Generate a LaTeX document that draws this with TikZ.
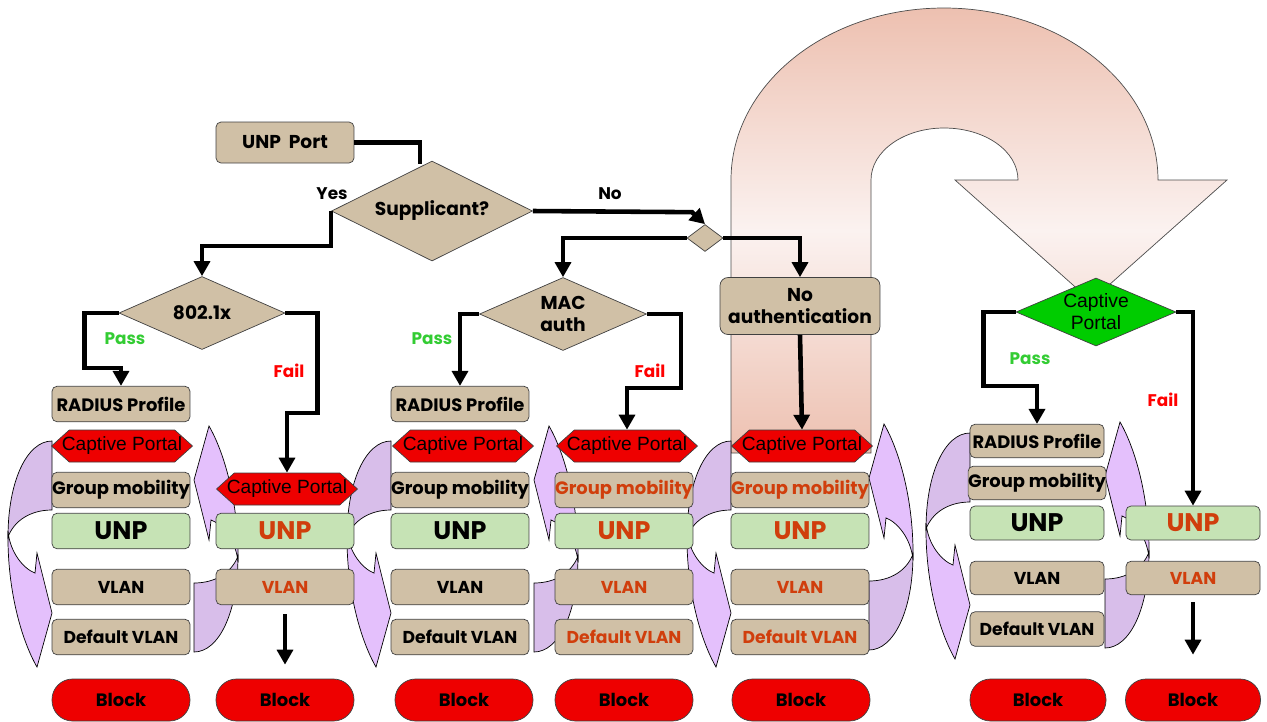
\documentclass[tikz,border=0pt]{standalone}
\usepackage{fontspec}
\setmainfont{Poppins}
\newfontfamily\arialfont{Liberation Sans}
\usetikzlibrary{shapes.geometric,shapes.symbols,arrows.meta}

\definecolor{boxtan}{RGB}{208,192,166}
\definecolor{unpgreen}{RGB}{198,227,181}
\definecolor{hexred}{RGB}{238,0,0}
\definecolor{cpgreen}{RGB}{0,204,0}
\definecolor{rusttext}{RGB}{208,62,12}
\definecolor{passgreen}{RGB}{51,204,51}
\definecolor{failred}{RGB}{255,0,0}
\definecolor{lilacback}{RGB}{216,190,234}
\definecolor{lilacfront}{RGB}{228,192,252}
\definecolor{salmon}{RGB}{237,192,176}
\definecolor{blush}{RGB}{251,242,240}

\newcommand{\fsbox}{\fontsize{10.2}{12.5}\selectfont\bfseries}
\newcommand{\fsvlan}{\fontsize{9.8}{12}\selectfont\bfseries}
\newcommand{\fsunp}{\fontsize{14.5}{16}\selectfont\bfseries}
\newcommand{\fslabel}{\fontsize{9.6}{12}\selectfont\bfseries}
\newcommand{\cptext}{\makebox[0pt]{Captive Portal}}

% curved loop arrow beside a stack, anchor = top end of the back part
\newcommand{\cyclearrow}[2]{%
  \begin{scope}[shift={#1}, rotate=#2]
    \draw[fill=lilacback, thin] (0,0) .. controls (-25,0) and (-44,40) .. (-44,96)
      .. controls (-38,80) and (-22,69) .. (0,69) -- cycle;
    \draw[fill=lilacfront, thin] (-44,90) .. controls (-45,150) and (-30,200) .. (-15,226)
      -- (0,172) -- (-15,112) -- (-17,132)
      .. controls (-28,128) and (-42,112) .. (-44,90) -- cycle;
  \end{scope}}

\begin{document}
\begin{tikzpicture}[x=0.02cm, y=-0.02cm]
    \tikzstyle{arrow} = [line width=2.6pt, ->, >= {Triangle[width=9pt, length=8.5pt]}]
    \tikzstyle{plainline} = [line width=2.6pt]
    \tikzstyle{tanbox} = [draw=black!75, fill=boxtan, rounded corners=0.1cm, minimum width=2.76cm, minimum height=0.71cm, inner sep=0pt, font=\fsbox]
    \tikzstyle{unpbox} = [tanbox, fill=unpgreen, font=\fsunp]
    \tikzstyle{vlanbox} = [tanbox, font=\fsvlan]
    \tikzstyle{hexbox} = [signal, signal to=west and east, signal pointer angle=84, draw=black!75, fill=hexred, minimum width=2.82cm, minimum height=0.64cm, inner sep=0pt, font=\arialfont\fontsize{10.9}{12}\selectfont]
    \tikzstyle{blockbox} = [draw=black!75, fill=hexred, rounded corners=0.41cm, minimum width=2.76cm, minimum height=0.84cm, inner sep=0pt, font=\fsbox]
    \tikzstyle{decision} = [diamond, draw=black!75, fill=boxtan, inner sep=0pt, align=center, font=\fsbox]
    \tikzstyle{rust} = [text=rusttext]
    \tikzstyle{pass} = [text=passgreen, font=\fslabel]
    \tikzstyle{fail} = [text=failred, font=\fslabel]

    \useasboundingbox (0,0) rectangle (1267,721);

    \draw[draw=black!70, thin, top color=salmon, bottom color=salmon, middle color=blush]
      (731,453) -- (731,180) .. controls (731,85) and (826,8) .. (944,8)
      .. controls (1062,8) and (1158,85) .. (1158,180) -- (1227,180) -- (1091,301)
      -- (955,180) -- (1018,180) .. controls (1018,151) and (985,128) .. (944,128)
      .. controls (904,128) and (871,151) .. (871,180) -- (871,453) -- cycle;

    \cyclearrow{(52,441)}{0}
    \cyclearrow{(194,652)}{180}
    \cyclearrow{(391,441)}{0}
    \cyclearrow{(534,652)}{180}
    \cyclearrow{(731,441)}{0}
    \cyclearrow{(869,650)}{180}
    \cyclearrow{(970,433)}{0}
    \cyclearrow{(1105,648)}{180}

    \node[tanbox, minimum height=0.82cm, font=\fontsize{10.6}{12.5}\selectfont\bfseries](port) at (285,142.5){UNP\ \ Port};
    \node[decision, aspect=2, minimum width=4.02cm, minimum height=2cm, font=\fontsize{10.6}{12.5}\selectfont\bfseries](supp) at (432,211){Supplicant?};
    \node[decision, aspect=2.27, minimum width=3.32cm, minimum height=1.46cm, font=\fontsize{10.6}{12.5}\selectfont\bfseries](dot1x) at (202,313){802.1x};
    \node[decision, aspect=2.29, minimum width=3.34cm, minimum height=1.46cm, font=\fontsize{10.6}{12.5}\selectfont\bfseries](mac) at (563,314){MAC\\auth};
    \node[decision, aspect=1.33, minimum width=0.72cm, minimum height=0.54cm](split) at (705,238){};
    \node[tanbox, minimum width=3.2cm, minimum height=1.14cm, rounded corners=0.16cm, align=center, font=\fontsize{10.6}{12.5}\selectfont\bfseries](noauth) at (800,306){No\\authentication};
    \node[decision, aspect=2.35, fill=cpgreen, minimum width=3.2cm, minimum height=1.36cm, font=\arialfont\fontsize{11}{12.5}\selectfont](cpdec) at (1096,312){Captive\\Portal};

    \node[font=\fslabel](yes) at (332,194){Yes};
    \node[font=\fslabel](no) at (610,194){No};
    \node[pass](pass1) at (125,339){Pass};
    \node[fail](fail1) at (289,371){Fail};
    \node[pass](pass3) at (432,339){Pass};
    \node[fail](fail3) at (650,371){Fail};
    \node[pass](pass6) at (1030,359){Pass};
    \node[fail](fail6) at (1163,400){Fail};

    \node[tanbox](rad1) at (121,404){RADIUS Profile};
    \node[hexbox](cp1) at (122,446){\cptext};
    \node[tanbox](gm1) at (121,490){Group mobility};
    \node[unpbox](unp1) at (121,531){UNP};
    \node[vlanbox](vlan1) at (121,587){VLAN};
    \node[vlanbox](dv1) at (121,637){Default VLAN};
    \node[blockbox](blk1) at (121,700){Block};

    \node[hexbox](cp2) at (287,489){\cptext};
    \node[unpbox, rust](unp2) at (285,531){UNP};
    \node[vlanbox, rust](vlan2) at (285,587){VLAN};
    \node[blockbox](blk2) at (285,700){Block};

    \node[tanbox](rad3) at (460,404){RADIUS Profile};
    \node[hexbox](cp3) at (463,446){\cptext};
    \node[tanbox](gm3) at (460,490){Group mobility};
    \node[unpbox](unp3) at (460,531){UNP};
    \node[vlanbox](vlan3) at (460,587){VLAN};
    \node[vlanbox](dv3) at (460,637){Default VLAN};
    \node[blockbox](blk3) at (464,700){Block};

    \node[hexbox](cp4) at (627,446){\cptext};
    \node[tanbox, rust](gm4) at (624,490){Group mobility};
    \node[unpbox, rust](unp4) at (624,531){UNP};
    \node[vlanbox, rust](vlan4) at (624,587){VLAN};
    \node[vlanbox, rust](dv4) at (624,637){Default VLAN};
    \node[blockbox](blk4) at (624,700){Block};

    \node[hexbox](cp5) at (802,446){\cptext};
    \node[tanbox, rust](gm5) at (800,490){Group mobility};
    \node[unpbox, rust](unp5) at (800,531){UNP};
    \node[vlanbox, rust](vlan5) at (800,587){VLAN};
    \node[vlanbox, rust](dv5) at (800,637){Default VLAN};
    \node[blockbox](blk5) at (801,700){Block};

    \node[tanbox, minimum width=2.68cm, minimum height=0.67cm](rad6) at (1037,441){RADIUS Profile};
    \node[tanbox, minimum width=2.68cm, minimum height=0.67cm](gm6) at (1037,483){Group mobility};
    \node[unpbox, minimum width=2.68cm, minimum height=0.68cm](unp6) at (1037,523){UNP};
    \node[vlanbox, minimum width=2.68cm, minimum height=0.67cm](vlan6) at (1037,578){VLAN};
    \node[vlanbox, minimum width=2.68cm, minimum height=0.69cm](dv6) at (1037,629){Default VLAN};
    \node[blockbox, minimum width=2.72cm](blk6) at (1038,700){Block};

    \node[unpbox, rust, minimum width=2.68cm, minimum height=0.68cm](unp7) at (1193,523){UNP};
    \node[vlanbox, rust, minimum width=2.68cm, minimum height=0.67cm](vlan7) at (1193,578){VLAN};
    \node[blockbox, minimum width=2.7cm](blk7) at (1193,700){Block};

    \draw[plainline] (port.east) -| ([xshift=-0.24cm, yshift=-0.06cm]supp.north);
    \draw[arrow] (supp.west) -- ++(0,35) -| (dot1x.north);
    \draw[arrow] (supp.east) -- ([shift={(-13,-12)}]split.north) -- (split.north);
    \draw[arrow] (split.west) -| (mac.north);
    \draw[arrow] (split.east) -| (noauth.north);
    \draw[arrow] (noauth.south) -- (cp5.north);
    \draw[arrow] (dot1x.west) -| ++(-34,55) -| (rad1.north);
    \draw[arrow] (dot1x.east) -| ++(32,100) -| (cp2.north);
    \draw[arrow] (mac.west) -| (rad3.north);
    \draw[arrow] (mac.east) -| ++(34,74) -| (cp4.north);
    \draw[arrow] (cpdec.west) -| ++(-32,74) -| (rad6.north);
    \draw[arrow] (cpdec.east) -| (unp7.north);
    \draw[arrow, shorten <=0.18cm, shorten >=0.28cm] (vlan2.south) -- (blk2.north);
    \draw[arrow, shorten <=0.14cm, shorten >=0.48cm] (vlan7.south) -- (blk7.north);
\end{tikzpicture}
\end{document}
